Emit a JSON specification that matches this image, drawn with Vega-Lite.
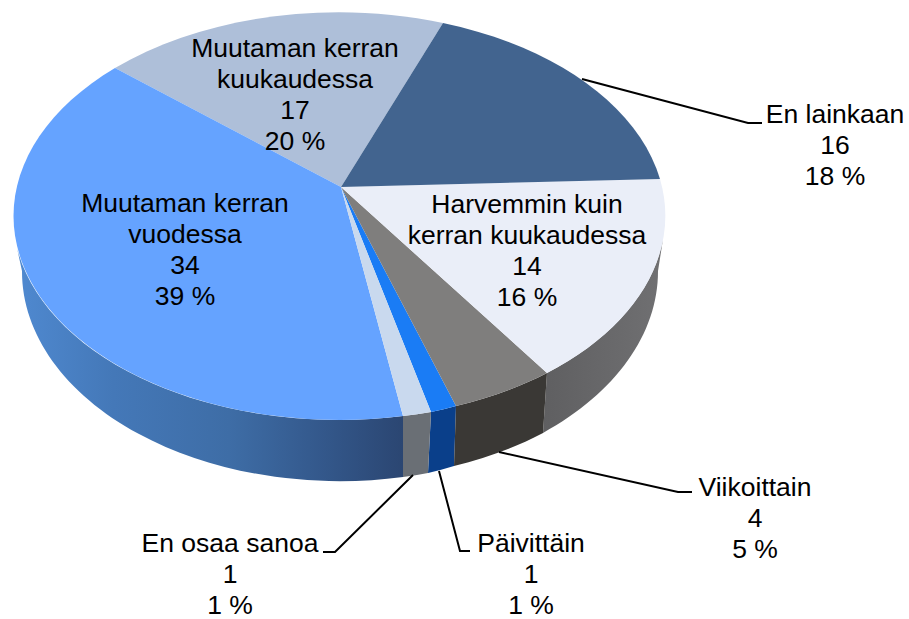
{
"$schema":"https://vega.github.io/schema/vega-lite/v6.json",
"width":909,"height":619,"padding":0,"autosize":{"type":"none"},"background":"white",
"view":{"stroke":null},
"data":{"values":[
{"category":"Päivittäin","count":1,"percent":1},
{"category":"Viikoittain","count":4,"percent":5},
{"category":"Muutaman kerran\nkuukaudessa","count":17,"percent":20},
{"category":"Harvemmin kuin\nkerran kuukaudessa","count":14,"percent":16},
{"category":"Muutaman kerran\nvuodessa","count":34,"percent":39},
{"category":"En lainkaan","count":16,"percent":18},
{"category":"En osaa sanoa","count":1,"percent":1}
]},
"transform":[{"calculate":"datum.category+'\\n'+datum.count+'\\n'+datum.percent+' %'","as":"label"}],
"encoding":{
"x":{"datum":0,"type":"quantitative","axis":null,"scale":{"domain":[0,909],"nice":false,"zero":false}},
"y":{"datum":0,"type":"quantitative","axis":null,"scale":{"domain":[619,0],"nice":false,"zero":false}}
},
"resolve":{"scale":{"shape":"independent","fill":"independent"}},
"layer":[
{"transform":[{"filter":"datum.category=='Muutaman kerran\\nvuodessa'"}],
 "mark":{"type":"point","filled":true,"opacity":1,"strokeWidth":0,"size":4,"shape":"M17 248A326 204 0 0 0 403 416L403 477A318 210 0 0 1 22 271Z",
 "fill":{"gradient":"linear","x1":0,"y1":0,"x2":1,"y2":0,"stops":[{"offset":0,"color":"#4f89d0"},{"offset":0.25,"color":"#4478b8"},{"offset":0.55,"color":"#3e6da6"},{"offset":0.8,"color":"#33578a"},{"offset":1,"color":"#2b4672"}]}}},
{"transform":[{"filter":"datum.category=='Harvemmin kuin\\nkerran kuukaudessa'"}],
 "mark":{"type":"point","filled":true,"opacity":1,"strokeWidth":0,"size":4,"shape":"M547 373A326 204 0 0 0 663 239L658 271A318 210 0 0 1 543 433Z",
 "fill":{"gradient":"linear","x1":0,"y1":0,"x2":1,"y2":0,"stops":[{"offset":0,"color":"#5f5f61"},{"offset":1,"color":"#707072"}]}}},
{"transform":[{"filter":"datum.category=='En osaa sanoa'||datum.category=='Päivittäin'||datum.category=='Viikoittain'"}],
 "mark":{"type":"point","filled":true,"opacity":1,"strokeWidth":0},
 "encoding":{"size":{"value":4},
 "shape":{"field":"category","type":"nominal","legend":null,"scale":{
  "domain":["En osaa sanoa","Päivittäin","Viikoittain"],
  "range":[
  "M403 416A326 204 0 0 0 431 412L428 473A318 210 0 0 1 403 477Z",
  "M431 412A326 204 0 0 0 456 406L454 466A318 210 0 0 1 428 473Z",
  "M456 406A326 204 0 0 0 547 373L543 433A318 210 0 0 1 454 466Z"]}},
 "fill":{"field":"category","type":"nominal","legend":null,"scale":{
  "domain":["En osaa sanoa","Päivittäin","Viikoittain"],
  "range":["#6a6f75","#0a3f8a","#3a3835"]}}
 }},
{"mark":{"type":"point","filled":true,"opacity":1,"strokeWidth":0},
 "encoding":{"size":{"value":4},
 "shape":{"field":"category","type":"nominal","legend":null,"scale":{
  "domain":["Muutaman kerran\nkuukaudessa","En lainkaan","Harvemmin kuin\nkerran kuukaudessa","Viikoittain","Päivittäin","En osaa sanoa","Muutaman kerran\nvuodessa"],
  "range":[
  "M341 187L115 68A326 204 0 0 1 443 23Z",
  "M341 187L443 23A326 204 0 0 1 660 179Z",
  "M341 187L660 179A326 204 0 0 1 547 373Z",
  "M341 187L547 373A326 204 0 0 1 456 406Z",
  "M341 187L456 406A326 204 0 0 1 431 412Z",
  "M341 187L431 412A326 204 0 0 1 403 416Z",
  "M341 187L403 416A326 204 0 0 1 115 68Z"]}},
 "fill":{"field":"category","type":"nominal","legend":null,"scale":{
  "domain":["Muutaman kerran\nkuukaudessa","En lainkaan","Harvemmin kuin\nkerran kuukaudessa","Viikoittain","Päivittäin","En osaa sanoa","Muutaman kerran\nvuodessa"],
  "range":["#aebfd9","#42648f","#eaeef8","#7f7e7d","#1a7cf5","#c9d9ee","#65a3ff"]}}
 }},
{"transform":[{"filter":"datum.category=='En lainkaan'||datum.category=='Viikoittain'||datum.category=='Päivittäin'||datum.category=='En osaa sanoa'"}],
 "mark":{"type":"point","filled":false,"opacity":1,"stroke":"black","strokeWidth":2},
 "encoding":{"size":{"value":4},
 "shape":{"field":"category","type":"nominal","legend":null,"scale":{
  "domain":["En lainkaan","Viikoittain","Päivittäin","En osaa sanoa"],
  "range":["M582 79L748 123L762 123","M499 452L678 492L692 492","M439 471L460 551L470 551","M413 475L335 552L323 552"]}}
 }},
{"transform":[{"filter":"datum.category=='Muutaman kerran\\nvuodessa'"}],"mark":{"type":"text","font":"Liberation Sans","fontSize":26.5,"lineHeight":31,"lineBreak":"\n","color":"black","align":"center","baseline":"middle"},"encoding":{"text":{"field":"label"},"x":{"datum":185},"y":{"datum":204}}},
{"transform":[{"filter":"datum.category=='Muutaman kerran\\nkuukaudessa'"}],"mark":{"type":"text","font":"Liberation Sans","fontSize":26.5,"lineHeight":31,"lineBreak":"\n","color":"black","align":"center","baseline":"middle"},"encoding":{"text":{"field":"label"},"x":{"datum":295},"y":{"datum":49}}},
{"transform":[{"filter":"datum.category=='Harvemmin kuin\\nkerran kuukaudessa'"}],"mark":{"type":"text","font":"Liberation Sans","fontSize":26.5,"lineHeight":31,"lineBreak":"\n","color":"black","align":"center","baseline":"middle"},"encoding":{"text":{"field":"label"},"x":{"datum":527},"y":{"datum":205}}},
{"transform":[{"filter":"datum.category=='En lainkaan'"}],"mark":{"type":"text","font":"Liberation Sans","fontSize":26.5,"lineHeight":31,"lineBreak":"\n","color":"black","align":"center","baseline":"middle"},"encoding":{"text":{"field":"label"},"x":{"datum":835},"y":{"datum":115}}},
{"transform":[{"filter":"datum.category=='Viikoittain'"}],"mark":{"type":"text","font":"Liberation Sans","fontSize":26.5,"lineHeight":31,"lineBreak":"\n","color":"black","align":"center","baseline":"middle"},"encoding":{"text":{"field":"label"},"x":{"datum":755},"y":{"datum":488}}},
{"transform":[{"filter":"datum.category=='Päivittäin'"}],"mark":{"type":"text","font":"Liberation Sans","fontSize":26.5,"lineHeight":31,"lineBreak":"\n","color":"black","align":"center","baseline":"middle"},"encoding":{"text":{"field":"label"},"x":{"datum":531},"y":{"datum":544}}},
{"transform":[{"filter":"datum.category=='En osaa sanoa'"}],"mark":{"type":"text","font":"Liberation Sans","fontSize":26.5,"lineHeight":31,"lineBreak":"\n","color":"black","align":"center","baseline":"middle"},"encoding":{"text":{"field":"label"},"x":{"datum":230},"y":{"datum":544}}}
]
}
